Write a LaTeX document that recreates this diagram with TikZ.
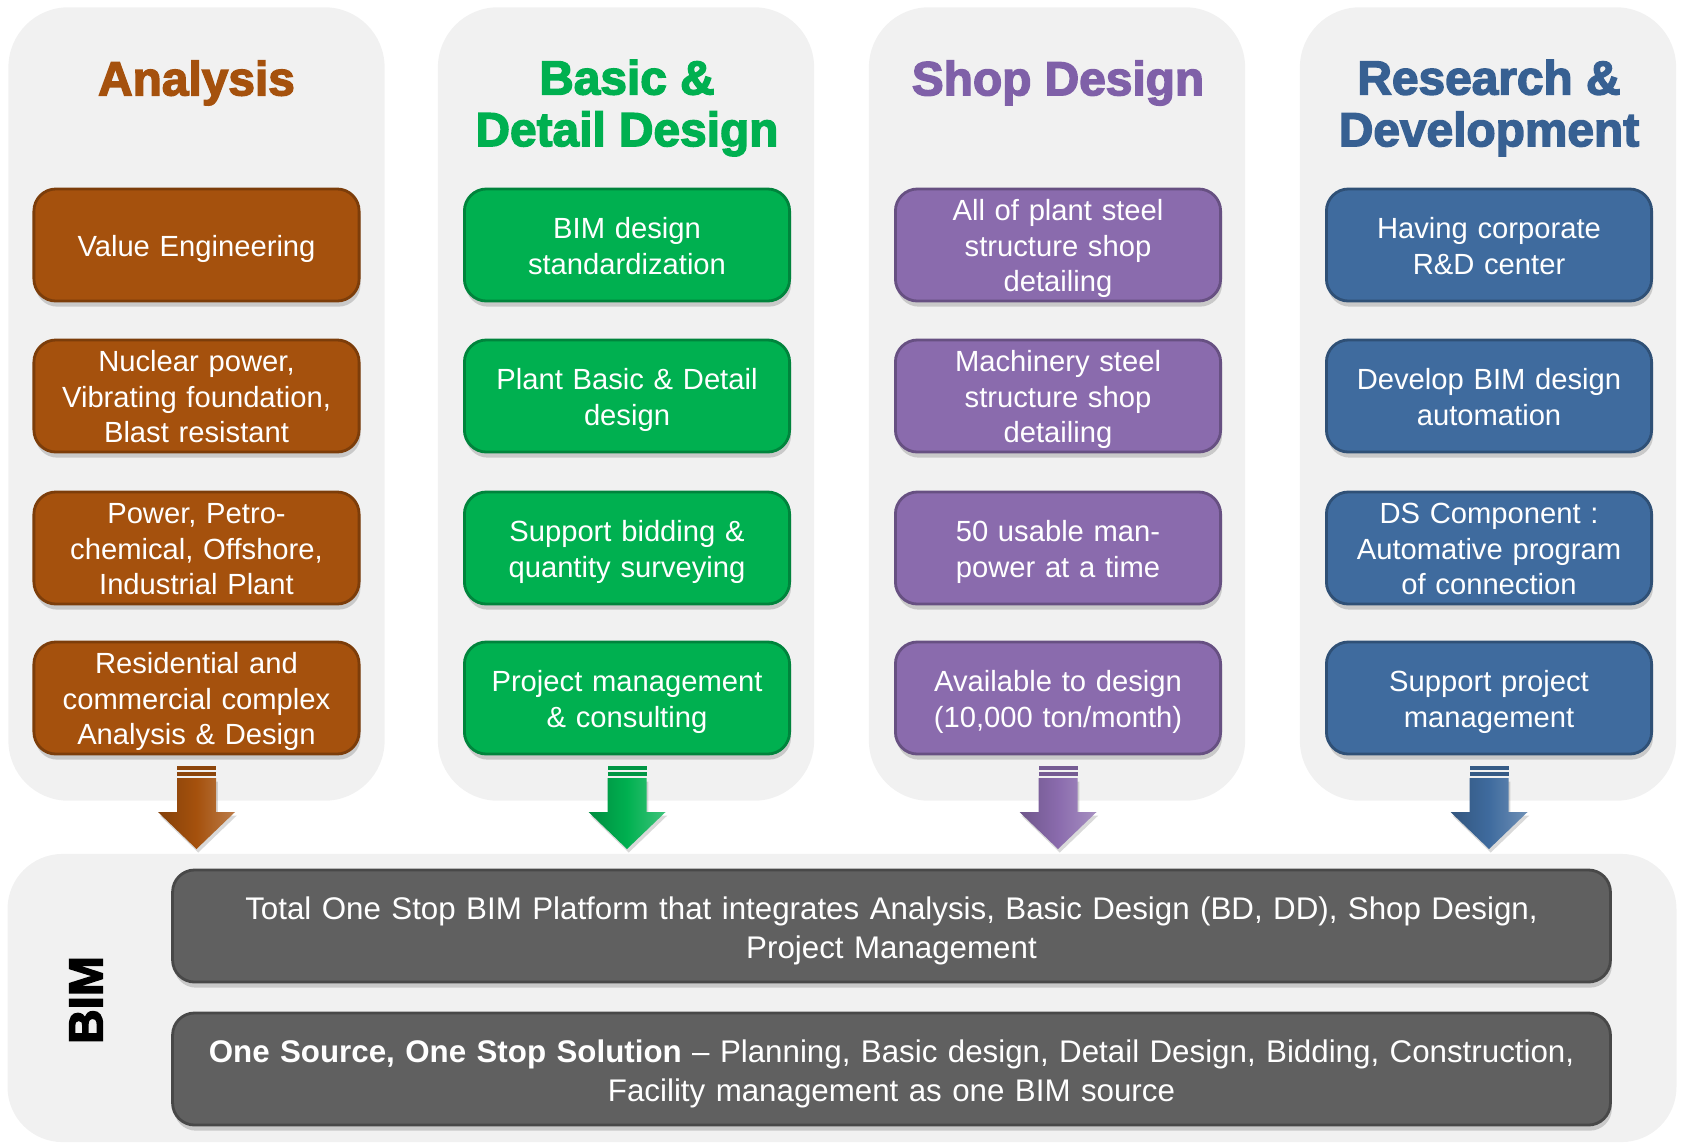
\documentclass[tikz,border=0pt]{standalone}
\usepackage{fontspec}
\setmainfont{Liberation Sans}
\newfontfamily\headfont{Liberation Sans}[BoldFeatures={FakeBold=3}]
\usetikzlibrary{shadows}

\definecolor{panelgray}{HTML}{F1F1F1}
\definecolor{anacol}{HTML}{A5510D}
\definecolor{descol}{HTML}{00B050}
\definecolor{shopcol}{HTML}{8A6BAD}
\definecolor{shophead}{HTML}{7F60A8}
\definecolor{rdcol}{HTML}{3F6B9E}
\definecolor{rdhead}{HTML}{376092}
\definecolor{bimcol}{HTML}{606060}

\tikzset{
  panel/.style={fill=panelgray, rounded corners=0.6cm, minimum width=3.76cm, minimum height=7.93cm, inner sep=0pt},
  head/.style={text=#1, align=center, font=\headfont\bfseries\fontsize{13.6}{14.7}\selectfont},
  item/.style={fill=#1, draw=#1!75!black, thick, rounded corners=0.22cm, minimum width=3.25cm, minimum height=1.12cm,
    text width=3.1cm, align=center, text=white, inner sep=0pt,
    font=\fontsize{8.3}{10.1}\selectfont,
    execute at begin node={\rule{0pt}{8.6pt}}, execute at end node={\rule[-2.1pt]{0pt}{0pt}},
    drop shadow={shadow xshift=0.4pt, shadow yshift=-1.6pt, opacity=0.35}},
  bimbox/.style={item=bimcol, minimum width=14.37cm, text width=14.2cm, font=\fontsize{8.9}{11.1}\selectfont,
    execute at begin node={\rule{0pt}{9.6pt}}},
}

\begin{document}
\begin{tikzpicture}[x=0.01cm, y=-0.01cm]
  \useasboundingbox (0,0) rectangle (1685,1142);

  % column panels
  \node[panel] (anapanel) at (196.5,404) {};
  \node[panel] (despanel) at (626,404) {};
  \node[panel] (shoppanel) at (1057,404) {};
  \node[panel] (rdpanel) at (1488,404) {};
  \node[panel, minimum width=16.68cm, minimum height=2.88cm, rounded corners=0.55cm] (bimpanel) at (842,998) {};

  % headers
  \node[head=anacol] (anahead) at (196.5,83) {Analysis};
  \node[head=descol] (deshead) at (627,108) {Basic \&\\Detail Design};
  \node[head=shophead] (shophead) at (1058,83) {Shop Design};
  \node[head=rdhead] (rdhead) at (1489,108) {Research \&\\Development};

  % analysis
  \node[item=anacol] (ana1) at (196.5,245) {Value Engineering};
  \node[item=anacol] (ana2) at (196.5,396) {Nuclear power,\\Vibrating foundation,\\Blast resistant};
  \node[item=anacol] (ana3) at (196.5,548) {Power, Petro-\\chemical, Offshore,\\Industrial Plant};
  \node[item=anacol] (ana4) at (196.5,698) {Residential and\\commercial complex\\Analysis \& Design};

  % basic & detail design
  \node[item=descol] (des1) at (627,245) {BIM design\\standardization};
  \node[item=descol] (des2) at (627,396) {Plant Basic \& Detail\\design};
  \node[item=descol] (des3) at (627,548) {Support bidding \&\\quantity surveying};
  \node[item=descol] (des4) at (627,698) {Project management\\\& consulting};

  % shop design
  \node[item=shopcol] (shop1) at (1058,245) {All of plant steel\\structure shop\\detailing};
  \node[item=shopcol] (shop2) at (1058,396) {Machinery steel\\structure shop\\detailing};
  \node[item=shopcol] (shop3) at (1058,548) {50 usable man-\\power at a time};
  \node[item=shopcol] (shop4) at (1058,698) {Available to design\\(10,000 ton/month)};

  % research & development
  \node[item=rdcol] (rd1) at (1489,245) {Having corporate\\R\&D center};
  \node[item=rdcol] (rd2) at (1489,396) {Develop BIM design\\automation};
  \node[item=rdcol] (rd3) at (1489,548) {DS Component :\\Automative program\\of connection};
  \node[item=rdcol] (rd4) at (1489,698) {Support project\\management};

  % bim
  \node[rotate=90, font=\headfont\bfseries\fontsize{13.6}{14}\selectfont] (bimlabel) at (86,1000) {BIM};
  \node[bimbox] (bim1) at (891.5,926) {Total One Stop BIM Platform that integrates Analysis, Basic Design (BD, DD), Shop Design,\\Project Management};
  \node[bimbox] (bim2) at (891.5,1069) {\textbf{One Source, One Stop Solution} -- Planning, Basic design, Detail Design, Bidding, Construction,\\Facility management as one BIM source};

  % block arrows down to the bim panel
  \foreach \cx/\col in {196.5/anacol, 627/descol, 1058/shopcol, 1489/rdcol} {
    \fill[\col!85!black] (\cx-19.5,766) rectangle (\cx+19.5,769.5);
    \fill[\col!85!black] (\cx-19.5,771.5) rectangle (\cx+19.5,776);
    \shade[left color=\col!80!black, right color=\col!75!white, middle color=\col,
      drop shadow={shadow xshift=0.5pt, shadow yshift=-1pt, opacity=0.3}]
      (\cx-19.5,778) -- (\cx+19.5,778) -- (\cx+19.5,812) -- (\cx+38.5,812)
      -- (\cx,849) -- (\cx-38.5,812) -- (\cx-19.5,812) -- cycle;
  }
\end{tikzpicture}
\end{document}
